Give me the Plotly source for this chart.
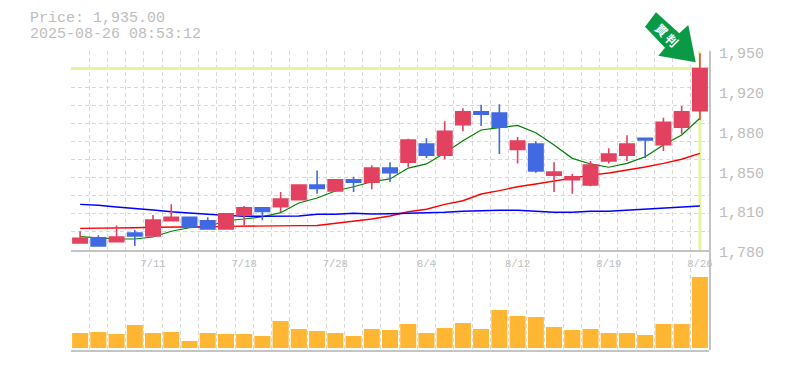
import plotly.graph_objects as go

price_label = "Price: 1,935.00"
time_label = "2025-08-26 08:53:12"
signal_label = "買 判"

dates = ["7/7", "7/8", "7/9", "7/10", "7/11", "7/14", "7/15", "7/16", "7/17", "7/18",
         "7/22", "7/23", "7/24", "7/25", "7/28", "7/29", "7/30", "7/31", "8/1", "8/4",
         "8/5", "8/6", "8/7", "8/8", "8/12", "8/13", "8/14", "8/15", "8/18", "8/19",
         "8/20", "8/21", "8/22", "8/25", "8/26"]
opens = [1786, 1790.5, 1787, 1794.5, 1792, 1805, 1808, 1805, 1798, 1810,
         1816, 1817, 1823, 1835.5, 1830.5, 1840, 1838, 1850, 1855, 1870.5,
         1861, 1887, 1898, 1897, 1866, 1870.5, 1844, 1840, 1835.5, 1856,
         1861, 1875.5, 1870, 1885, 1899]
highs = [1796, 1792.5, 1801, 1797, 1810, 1819, 1808, 1808, 1811.5, 1817.5,
         1816, 1829.5, 1835.5, 1848, 1840, 1842.5, 1852.5, 1855, 1875, 1875.5,
         1890, 1901, 1904, 1904.5, 1876.5, 1873, 1855, 1845, 1856, 1867,
         1878, 1875.5, 1893, 1903, 1948]
lows = [1786, 1783.5, 1787, 1783.5, 1792, 1805, 1799.5, 1798, 1798, 1801,
        1805.5, 1812.5, 1823, 1828, 1829.5, 1829.5, 1832, 1838, 1851, 1858.5,
        1857.5, 1881.5, 1886, 1862, 1854, 1846, 1829.5, 1828, 1834.5, 1854,
        1856, 1858.5, 1864.5, 1879, 1891]
closes = [1790, 1783.5, 1791, 1792, 1805.5, 1808, 1799.5, 1798, 1811, 1816,
          1813, 1823.5, 1835.5, 1832.5, 1840, 1838, 1850, 1846, 1874, 1861,
          1881.5, 1898, 1896, 1885, 1873, 1847.5, 1846.5, 1842.5, 1852.5, 1862,
          1870.5, 1874, 1889, 1898, 1935]
ma_short = [1791.4, 1790.5, 1789.4, 1789.4, 1791.1, 1796, 1799, 1799.9, 1805, 1806.5,
            1808.4, 1811.9, 1820.2, 1824.4, 1830.4, 1834, 1838.3, 1840.7, 1850, 1853.5,
            1862.9, 1873.4, 1882.5, 1884.5, 1886.5, 1880.2, 1869.7, 1858.3, 1853.5, 1850.7,
            1854, 1859.7, 1869.7, 1878.2, 1892.5]
ma_mid = [1798.5, 1798.5, 1798.5, 1799, 1799.4, 1799.4, 1799.6, 1799.9, 1800.2, 1800.2,
          1800.2, 1800.2, 1800.8, 1800.9, 1802.8, 1804.2, 1806.5, 1809, 1812.7, 1814.8,
          1819, 1822.1, 1827.8, 1830.7, 1834, 1836.4, 1838.9, 1841.5, 1844, 1845.8,
          1848.3, 1850.9, 1854, 1857.5, 1862.6]
ma_long = [1819, 1818.2, 1816.7, 1815.6, 1814.2, 1812.7, 1811.4, 1810.5, 1809.6, 1808.8,
           1808.8, 1808.8, 1809, 1810.5, 1810.5, 1811.4, 1810.8, 1811, 1811.4, 1811.4,
           1812.2, 1813.1, 1813.6, 1813.9, 1813.9, 1813.1, 1812.2, 1812.2, 1813.1, 1813.1,
           1813.9, 1814.8, 1815.6, 1816.5, 1817.6]
volumes = [150, 160, 140, 230, 150, 160, 70, 150, 140, 140,
           120, 270, 190, 170, 150, 120, 190, 180, 240, 150,
           200, 250, 190, 380, 320, 310, 210, 180, 190, 150,
           150, 130, 240, 240, 710]
y_tick_values = [1950, 1916, 1882, 1848, 1814, 1780]
y_tick_labels = ["1,950", "1,920", "1,880", "1,850", "1,810", "1,780"]
x_tick_positions = [4, 9, 14, 19, 24, 29, 34]
current_price = 1935

UP = "#E2415F"
DOWN = "#4169E1"
GRID = "#D8D8D8"
AXIS = "#C4C4C4"
TEXT = "#BDBDBD"
HILITE = "#E4F5A0"
FONT = "Liberation Mono"
DASH = "4px,3px"
CLEAR = "rgba(0,0,0,0)"

x = list(range(len(dates)))
x_range = [-0.5, len(dates) - 0.5]
y_range = [y_tick_values[-1], y_tick_values[0]]
x_labels = [dates[i] for i in x_tick_positions]

# Pixel frame of the panes
L, R, T, B, SPLIT = 71, 709, 51, 350, 250
W, H = 785, 370
px = lambda v: (v - L) / (R - L)
py = lambda v: (B - v) / (B - T)

fig = go.Figure()

# full-height pane: carries only the vertical grid and the right border
fig.add_trace(go.Scatter(x=[x_range[0]], y=[0], mode="lines", hoverinfo="skip",
                         showlegend=False, xaxis="x", yaxis="y"))

# current-price crosshair and moving averages, under the candles
fig.add_trace(go.Scatter(x=x_range, y=[current_price, current_price], mode="lines",
                         line=dict(color=HILITE, width=3), hoverinfo="skip",
                         showlegend=False, xaxis="x2", yaxis="y2"))
fig.add_trace(go.Scatter(x=[x[-1], x[-1]], y=y_range, mode="lines",
                         line=dict(color=HILITE, width=3), hoverinfo="skip",
                         showlegend=False, xaxis="x2", yaxis="y2"))

for series, colour, lw in ((ma_short, "#008000", 1.2), (ma_mid, "#FF0000", 1.4), (ma_long, "#0000FF", 1.4)):
    fig.add_trace(go.Scatter(x=x, y=series, mode="lines", line=dict(color=colour, width=lw),
                             showlegend=False, xaxis="x2", yaxis="y2"))

fig.add_trace(go.Bar(x=x, y=volumes, marker=dict(color="#FFB733", line=dict(width=0)),
                     showlegend=False, xaxis="x3", yaxis="y3"))

fig.add_trace(go.Candlestick(
    x=x, open=opens, high=highs, low=lows, close=closes, whiskerwidth=0,
    increasing=dict(line=dict(color=UP, width=1.6), fillcolor=UP),
    decreasing=dict(line=dict(color=DOWN, width=1.6), fillcolor=DOWN),
    showlegend=False, xaxis="x4", yaxis="y4"))

# label-only axis, nudged down so that the labels sit where the reference has them
fig.add_trace(go.Scatter(x=[x_range[0]], y=[y_range[0]], mode="lines", hoverinfo="skip",
                         showlegend=False, xaxis="x5", yaxis="y5"))

arrow = [(656, 12.3), (645, 26.7), (665, 47.7), (658.3, 55.7), (695.7, 62.3),
         (688.3, 25), (679.3, 33.3)]
path = "M" + " L".join(f"{px(a):.5f},{py(b):.5f}" for a, b in arrow) + " Z"

hidden_x = dict(domain=[0, 1], range=x_range, showticklabels=False, ticks="", showgrid=False,
                zeroline=False, showline=False, rangeslider=dict(visible=False), automargin=False)
hidden_y = dict(showticklabels=False, ticks="", showgrid=False, zeroline=False, showline=False,
                automargin=False)

fig.update_layout(
    width=W, height=H,
    margin=dict(l=L, r=W - R, t=T, b=H - B, pad=0, autoexpand=False),
    paper_bgcolor="white", plot_bgcolor=CLEAR,
    showlegend=False, boxgap=0.21, boxgroupgap=0, bargap=0.12, boxmode="overlay",
    font=dict(family=FONT, color=TEXT),
    xaxis=dict(domain=[0, 1], range=x_range, anchor="y", tickmode="linear", tick0=-0.5, dtick=1,
               showgrid=True, gridcolor=GRID, griddash=DASH, gridwidth=1, automargin=False,
               showticklabels=False, ticks="", zeroline=False, showline=False),
    yaxis=dict(domain=[0, 1], range=[0, 1], anchor="x", side="right", showgrid=False,
               showticklabels=False, ticks="", zeroline=False, showline=True, automargin=False,
               linecolor=AXIS, linewidth=1.5),
    xaxis2=dict(domain=[0, 1], range=x_range, anchor="y2", automargin=False,
                tickmode="array", tickvals=x_tick_positions, ticktext=x_labels,
                tickfont=dict(family=FONT, size=10.5, color=TEXT), tickangle=0,
                ticks="outside", ticklen=3, tickcolor=CLEAR,
                showgrid=False, zeroline=False, showline=True, linecolor=AXIS, linewidth=1.5),
    yaxis2=dict(domain=[py(SPLIT), 1], range=y_range, anchor="x2", automargin=False,
                side="right", tickmode="array", tickvals=y_tick_values,
                showticklabels=False, ticks="", showgrid=False, zeroline=False, showline=False,
                minor=dict(tickmode="linear", tick0=1780, dtick=170 / 11 - 1e-6, showgrid=True,
                           gridcolor=GRID, griddash=DASH, gridwidth=1, ticks="")),
    xaxis3=dict(domain=[0, 1], range=x_range, anchor="y3", showticklabels=False, ticks="",
                automargin=False,
                showgrid=False, zeroline=False, showline=True, linecolor=AXIS, linewidth=1.5),
    yaxis3=dict(domain=[0, py(SPLIT)], range=[-20, 980], anchor="x3", **hidden_y),
    xaxis4=dict(anchor="y4", **hidden_x),
    yaxis4=dict(domain=[py(SPLIT), 1], range=y_range, anchor="x4", **hidden_y),
    xaxis5=dict(anchor="y5", **hidden_x),
    yaxis5=dict(domain=[py(SPLIT + 2), py(T + 2)], range=y_range, anchor="x5", side="right",
                tickmode="array", tickvals=y_tick_values, ticktext=y_tick_labels,
                tickfont=dict(family=FONT, size=15, color=TEXT), automargin=False,
                ticks="outside", ticklen=6, tickcolor=CLEAR,
                showgrid=False, zeroline=False, showline=False),
    shapes=[dict(type="path", xref="paper", yref="paper", path=path,
                 fillcolor="#0A9A46", line=dict(width=0), layer="above")],
    annotations=[
        dict(xref="paper", yref="paper", x=px(28), y=py(18.5), text=price_label, showarrow=False,
             xanchor="left", yanchor="middle", font=dict(family=FONT, size=15, color=TEXT)),
        dict(xref="paper", yref="paper", x=px(28), y=py(34.5), text=time_label, showarrow=False,
             xanchor="left", yanchor="middle", font=dict(family=FONT, size=15, color=TEXT)),
        dict(xref="paper", yref="paper", x=px(667), y=py(34.5), text=signal_label, showarrow=False,
             textangle=45, xanchor="center", yanchor="middle",
             font=dict(family="Noto Sans CJK JP", size=12, color="white", weight="bold")),
    ],
)

fig.write_html("out.html", config=dict(displayModeBar=False),
               post_script="document.body.style.margin='0';document.body.style.overflow='hidden';")
